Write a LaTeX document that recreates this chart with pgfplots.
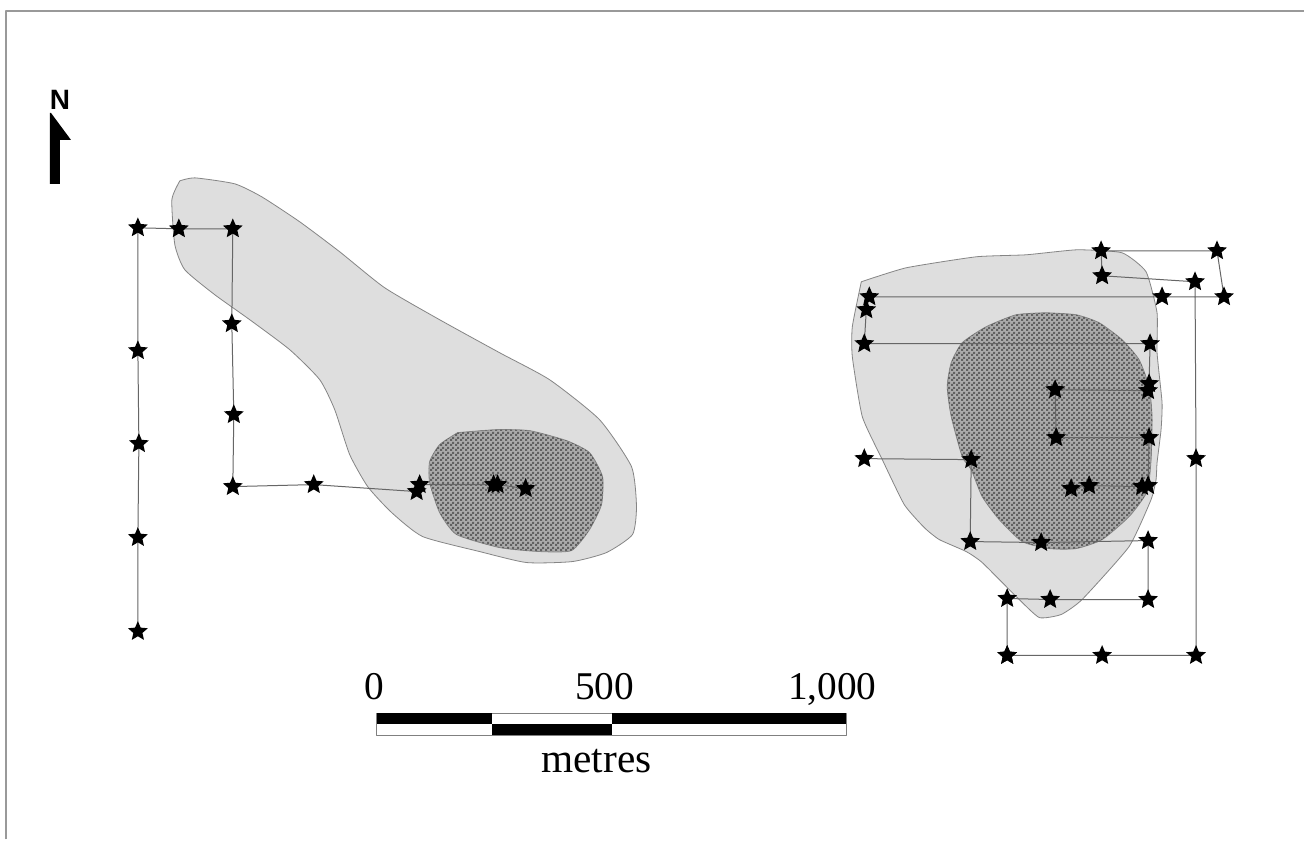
\documentclass[border=0pt]{standalone}
\usepackage{pgfplots}
\pgfplotsset{compat=1.18}
\usepackage{fontspec}
\setmainfont{Liberation Serif}
\newfontfamily\arialbf[BoldFont={Liberation Sans Bold}]{Liberation Sans}
\usetikzlibrary{patterns}
\definecolor{outerfill}{gray}{0.87}
\definecolor{innerfill}{gray}{0.67}
\definecolor{patfg}{gray}{0.38}
\definecolor{edge}{gray}{0.52}
\pgfdeclarepatternformonly{fine}{\pgfqpoint{0pt}{0pt}}{\pgfqpoint{3.4pt}{3.4pt}}{\pgfqpoint{3.4pt}{3.4pt}}{%
  \pgfpathrectangle{\pgfqpoint{0pt}{0pt}}{\pgfqpoint{1.7pt}{1.7pt}}%
  \pgfpathrectangle{\pgfqpoint{1.7pt}{1.7pt}}{\pgfqpoint{1.7pt}{1.7pt}}%
  \pgfusepath{fill}}
\pgfdeclareplotmark{fstar}{%
  \pgfpathmoveto{\pgfqpointpolar{90}{\pgfplotmarksize}}%
  \pgfpathlineto{\pgfqpointpolar{126}{0.46\pgfplotmarksize}}%
  \pgfpathlineto{\pgfqpointpolar{162}{\pgfplotmarksize}}%
  \pgfpathlineto{\pgfqpointpolar{198}{0.46\pgfplotmarksize}}%
  \pgfpathlineto{\pgfqpointpolar{234}{\pgfplotmarksize}}%
  \pgfpathlineto{\pgfqpointpolar{270}{0.46\pgfplotmarksize}}%
  \pgfpathlineto{\pgfqpointpolar{306}{\pgfplotmarksize}}%
  \pgfpathlineto{\pgfqpointpolar{342}{0.46\pgfplotmarksize}}%
  \pgfpathlineto{\pgfqpointpolar{18}{\pgfplotmarksize}}%
  \pgfpathlineto{\pgfqpointpolar{54}{0.46\pgfplotmarksize}}%
  \pgfpathclose\pgfusepathqfill}
\begin{document}
\begin{tikzpicture}
\begin{axis}[
  scale only axis, width=978.75pt, height=630pt,
  xmin=0, xmax=1305, ymin=0, ymax=840, y dir=reverse,
  axis lines=none, clip=false,
  every axis plot/.append style={line join=round}]
% page and frame
\addplot[draw=none, fill=white, forget plot] coordinates {(0,0)(1305,0)(1305,840)(0,840)} -- cycle;
\addplot[draw=gray!80, line width=1.6pt, forget plot] coordinates {(6,840)(6,11)(1305,11)};
% left outer range
\addplot[draw=edge, line width=0.6pt, fill=outerfill, smooth, tension=0.35, forget plot] coordinates {
(180,181)(195,178)(235,184)(262,197)(300,222)(340,252)(385,288)(440,320)(500,353)(550,380)(600,420)(632,467)(637,507)(633,535)(607,553)(573,562)(527,563)(480,552)(423,537)(392,513)(368,487)(350,455)(335,410)(320,380)(290,350)(250,320)(215,295)(185,270)(175,245)(172,200)(180,181)};
% left core
\addplot[draw=edge, line width=0.6pt, fill=innerfill, smooth, tension=0.35, forget plot] coordinates {
(458,433)(497,430)(530,431)(567,441)(590,453)(603,477)(602,505)(590,530)(572,551)(540,552)(500,548)(457,535)(440,513)(430,483)(430,462)(440,445)(458,433)};
\addplot[draw=none, pattern=fine, pattern color=patfg, smooth, tension=0.35, forget plot] coordinates {
(458,433)(497,430)(530,431)(567,441)(590,453)(603,477)(602,505)(590,530)(572,551)(540,552)(500,548)(457,535)(440,513)(430,483)(430,462)(440,445)(458,433)};
% right outer range
\addplot[draw=edge, line width=0.6pt, fill=outerfill, smooth, tension=0.3, forget plot] coordinates {
(862,282)(907,268)(977,257)(1027,255)(1078,250)(1123,253)(1147,272)(1158,313)(1158,353)(1163,403)(1162,430)(1158,463)(1157,480)(1152,500)(1130,547)(1083,600)(1062,615)(1040,618)(1017,597)(983,563)(967,552)(940,540)(925,528)(905,505)(883,460)(863,417)(853,357)(853,327)(862,282)};
% right core
\addplot[draw=edge, line width=0.6pt, fill=innerfill, smooth, tension=0.35, forget plot] coordinates {
(1047,313)(1017,315)(987,327)(963,343)(952,363)(948,387)(952,417)(963,457)(972,470)(983,497)(1000,520)(1023,542)(1050,549)(1077,549)(1103,540)(1130,517)(1148,492)(1152,460)(1153,417)(1150,387)(1140,360)(1123,340)(1100,323)(1077,315)(1047,313)};
\addplot[draw=none, pattern=fine, pattern color=patfg, smooth, tension=0.35, forget plot] coordinates {
(1047,313)(1017,315)(987,327)(963,343)(952,363)(948,387)(952,417)(963,457)(972,470)(983,497)(1000,520)(1023,542)(1050,549)(1077,549)(1103,540)(1130,517)(1148,492)(1152,460)(1153,417)(1150,387)(1140,360)(1123,340)(1100,323)(1077,315)(1047,313)};
% tracks
\pgfplotsset{track/.style={draw=black!60, line width=0.75pt, mark=fstar, mark size=7.8pt, mark options={fill=black, draw=none, solid}}}
\addplot[track] coordinates {
(138,632)(138,538)(139,444)(138,351)(138,228)(179,229)(233,229)(232,324)(234,415)(233,487)(314,485)(417,492)(420,485)(494,485)(498,485)(526,489)};
\addplot[track] coordinates {
(1008,656)(1103,656)(1197,656)(1197,459)(1196,282)(1103,276)(1102,251)(1218,251)(1225,297)(1163,297)(870,297)(867,310)(865,344)(1151,344)(1150,384)(1149,391)(1056,390)(1057,438)(1150,438)(1149,486)(1143,487)(1090,486)(1072,489)};
\addplot[track] coordinates {
(865,459)(972,460)(971,542)(1042,543)(1149,541)(1149,600)(1051,600)(1008,599)(1008,656)};
% north arrow
\addplot[draw=none, fill=black, forget plot] coordinates {(51,113)(71,140)(60,140)(60,184)(50,184)(50,113)} -- cycle;
\node[font=\arialbf\bfseries\fontsize{21}{25}\selectfont, inner sep=0pt] at (axis cs:60,100) {N};
% scale bar
\addplot[draw=gray, line width=0.6pt, fill=white, forget plot] coordinates {(377,714)(847,714)(847,736)(377,736)} -- cycle;
\addplot[draw=none, fill=black, forget plot] coordinates {(377,714)(492,714)(492,725)(377,725)} -- cycle;
\addplot[draw=none, fill=black, forget plot] coordinates {(492,725)(612,725)(612,736)(492,736)} -- cycle;
\addplot[draw=none, fill=black, forget plot] coordinates {(612,714)(847,714)(847,725)(612,725)} -- cycle;
\node[font=\fontsize{29.5}{34}\selectfont, inner sep=0pt, anchor=base] at (axis cs:375,700) {0};
\node[font=\fontsize{29.5}{34}\selectfont, inner sep=0pt, anchor=base] at (axis cs:605,700) {500};
\node[font=\fontsize{29.5}{34}\selectfont, inner sep=0pt, anchor=base] at (axis cs:833,700) {1,000};
\node[font=\fontsize{31}{36}\selectfont, inner sep=0pt, anchor=base] at (axis cs:597,773) {metres};
\end{axis}
\end{tikzpicture}
\end{document}
